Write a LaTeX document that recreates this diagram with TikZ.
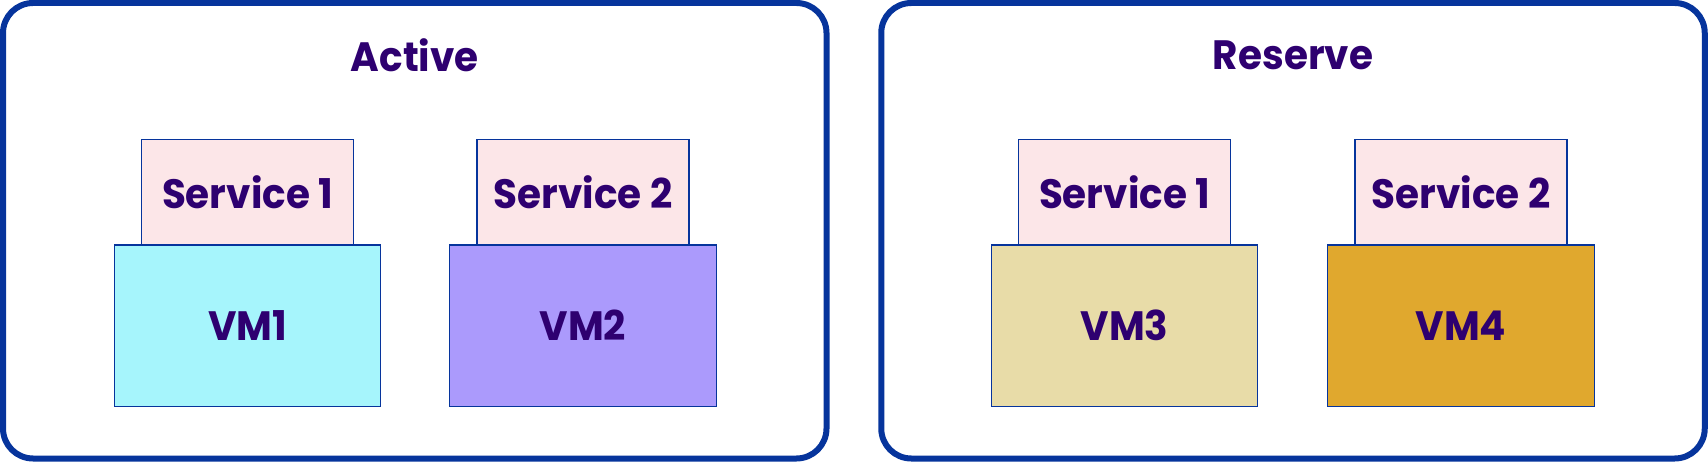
\documentclass[tikz,border=0pt]{standalone}
\usepackage{fontspec}
\setmainfont{Poppins}[FakeStretch=0.95]
\definecolor{txt}{HTML}{2E0070}
\definecolor{frame}{HTML}{06349C}
\definecolor{svcfill}{HTML}{FCE6E8}
\definecolor{vmA}{HTML}{A6F5FC}
\definecolor{vmB}{HTML}{AB9AFC}
\definecolor{vmC}{HTML}{E8DCA8}
\definecolor{vmD}{HTML}{E0A82E}
\tikzset{
  panel/.style={draw=frame, line width=6pt, rounded corners=30pt, minimum width=823.5pt, minimum height=455.5pt, inner sep=0pt, outer sep=0pt},
  lbl/.style={text=txt, font=\fontsize{41}{45}\selectfont\bfseries},
  svc/.style={lbl, draw=frame, line width=1.2pt, fill=svcfill, minimum width=212pt, minimum height=105.7pt, inner sep=0pt},
  vm/.style={lbl, draw=frame, line width=1.2pt, minimum width=266.4pt, minimum height=161pt, inner sep=0pt},
}
\begin{document}
\begin{tikzpicture}[x=1pt,y=-1pt]
\useasboundingbox (0,0) rectangle (1708,462);
\node[panel] (pA) at (414.75,230.75) {};
\node[panel] (pB) at (1293,230.75) {};
\node[lbl] (tA) at (414.75,55) {Active};
\node[lbl] (tB) at (1293,55) {Reserve};
\node[svc] (s1) at (247.5,192.2) {Service 1};
\node[svc] (s2) at (583,192.2) {Service 2};
\node[svc] (s3) at (1124.5,192.2) {Service 1};
\node[svc] (s4) at (1461,192.2) {Service 2};
\node[vm, fill=vmA] (v1) at (247.5,325.6) {VM1};
\node[vm, fill=vmB] (v2) at (583,325.6) {VM2};
\node[vm, fill=vmC] (v3) at (1124.5,325.6) {VM3};
\node[vm, fill=vmD] (v4) at (1461,325.6) {VM4};
\end{tikzpicture}
\end{document}
